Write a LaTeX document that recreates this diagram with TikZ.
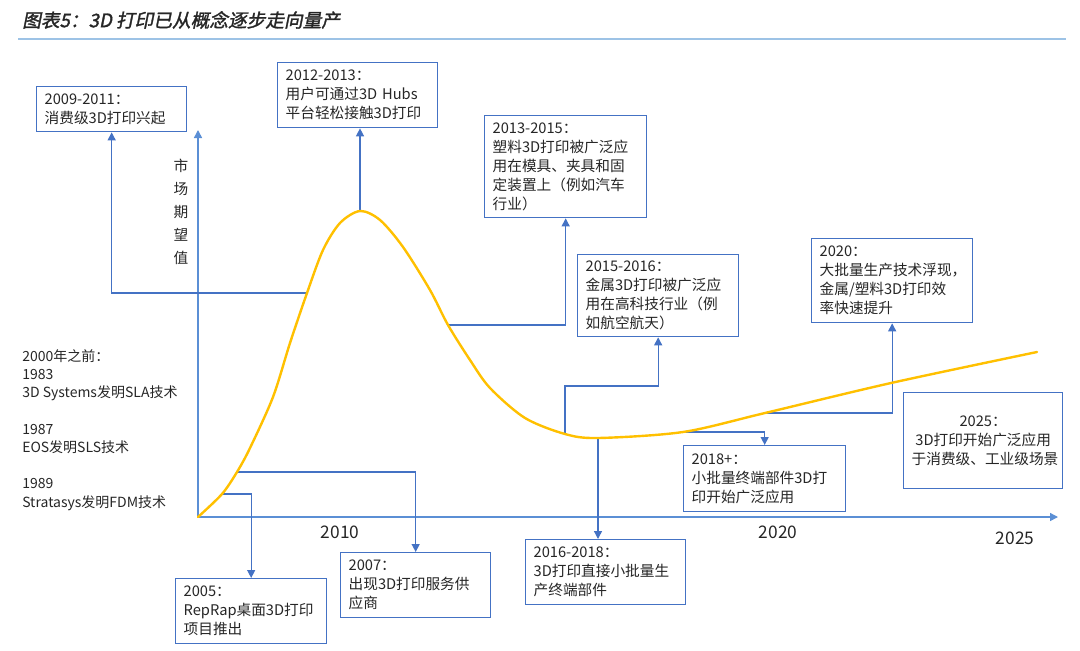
\documentclass[tikz,border=0pt]{standalone}
\usepackage{fontspec}
\setmainfont{Noto Sans CJK SC}
\newfontfamily\titlefont[FakeBold=1.5,FakeSlant=0.2]{Noto Sans CJK SC}
\usetikzlibrary{arrows.meta}
\definecolor{boxblue}{HTML}{4472C4}
\definecolor{axisblue}{HTML}{5B8FD5}
\definecolor{curvegold}{HTML}{FFC000}
\definecolor{rulegray}{HTML}{9DC3E6}
\definecolor{inkgray}{HTML}{262626}
\newcommand\evtfont{\fontsize{11}{14.2}\selectfont}

\begin{document}
\begin{tikzpicture}[
  x=0.75pt, y=-0.75pt,
  >={Triangle[length=6pt,width=6pt]},
  evt/.style={draw=boxblue, line width=1pt, fill=white, align=left, anchor=north west, inner xsep=6pt, inner ysep=3pt, font=\evtfont, text=inkgray},
  axis/.style={->, draw=axisblue, line width=1.1pt},
  link/.style={->, draw=boxblue, line width=1pt},
  hype/.style={draw=curvegold, line width=1.8pt, line cap=round},
  year/.style={font=\fontsize{13}{15}\selectfont, text=inkgray}
]
  \useasboundingbox (0,0) rectangle (1080,650);

  \node[anchor=west, inner sep=0, text=inkgray, font=\titlefont\fontsize{14}{16}\selectfont] (title) at (22,20) {图表5：3D 打印已从概念逐步走向量产};
  \draw[rulegray, line width=0.8pt] (18,39) -- (1066,39);

  \coordinate (o) at (198,517);
  \coordinate (xend) at (1058,517);
  \coordinate (yend) at (198,130);
  \coordinate (k05) at (222,494);
  \coordinate (k07) at (237,472);
  \coordinate (k0911) at (307,293);
  \coordinate (k1213) at (360,211);
  \coordinate (k1315) at (448,325);
  \coordinate (k1516) at (565,434);
  \coordinate (k1618) at (598,438);
  \coordinate (k18) at (683,432);
  \coordinate (k20) at (765,413);

  \node[evt, text width=100.5pt, minimum height=33.75pt] (b0911) at (36,86) {2009-2011：\\消费级3D打印兴起};
  \node[evt, text width=108pt, minimum height=48.75pt] (b1213) at (277,62) {2012-2013：\\用户可通过3D Hubs\\平台轻松接触3D打印};
  \node[evt, text width=109.5pt, minimum height=76.5pt] (b1315) at (484,115) {2013-2015：\\塑料3D打印被广泛应\\用在模具、夹具和固\\定装置上（例如汽车\\行业）};
  \node[evt, text width=108.75pt, minimum height=61.5pt] (b1516) at (577,254) {2015-2016：\\金属3D打印被广泛应\\用在高科技行业（例\\如航空航天）};
  \node[evt, text width=108.75pt, minimum height=63pt] (b20) at (811,238) {2020：\\大批量生产技术浮现，\\金属/塑料3D打印效\\率快速提升};
  \node[evt, align=center, text width=107.25pt, minimum height=72pt] (b25) at (903,392) {2025：\\3D打印开始广泛应用\\于消费级、工业级场景};
  \node[evt, text width=109.5pt, minimum height=49.5pt] (b18) at (683,445) {2018+：\\小批量终端部件3D打\\印开始广泛应用};
  \node[evt, text width=108pt, minimum height=48.75pt] (b1618) at (525,539) {2016-2018：\\3D打印直接小批量生\\产终端部件};
  \node[evt, text width=100.5pt, minimum height=48.75pt] (b07) at (340,552) {2007：\\出现3D打印服务供\\应商};
  \node[evt, text width=101.25pt, minimum height=48.75pt] (b05) at (175,578) {2005：\\RepRap桌面3D打印\\项目推出};

  \node[anchor=north west, inner sep=0, align=left, text=inkgray, font=\fontsize{10.5}{13.7}\selectfont] (hist) at (22,349) {2000年之前：\\1983\\3D Systems发明SLA技术\\[13.7pt]1987\\EOS发明SLS技术\\[13.7pt]1989\\Stratasys发明FDM技术};
  \node[align=center, inner sep=0, text=inkgray, font=\fontsize{11}{17.3}\selectfont] (ylab) at (181,212) {市\\场\\期\\望\\值};

  \node[year] (l2010) at (340,532) {2010};
  \node[year] (l2020) at (778,532) {2020};
  \node[year] (l2025) at (1015,538) {2025};

  \draw[axis] (o) -- (xend);
  \draw[axis] (o) -- (yend);

  \draw[link] (k0911) -| (b0911.south);
  \draw[link] (k1213) -- (k1213 |- b1213.south);
  \draw[link] (k1315) -| (b1315.south);
  \draw[link] (k1516) -- ++(0,-48) -| (b1516.south);
  \draw[link] (k1618) -- (k1618 |- b1618.north);
  \draw[link] (k18) -| (b18.north);
  \draw[link] (k20) -| (b20.south);
  \draw[link] (k07) -| (b07.north);
  \draw[link] (k05) -| (b05.north);

  \draw[hype] plot[smooth, tension=0.5] coordinates {(o) (k05) (k07) (250,448) (273,397) (290,343) (k0911) (323,250) (340,223) (k1213) (380,220) (403,247) (430,290) (k1315) (470,360) (490,388) (525,418) (k1516) (k1618) (k18) (k20) (891,383) (1037,352)};
\end{tikzpicture}
\end{document}
